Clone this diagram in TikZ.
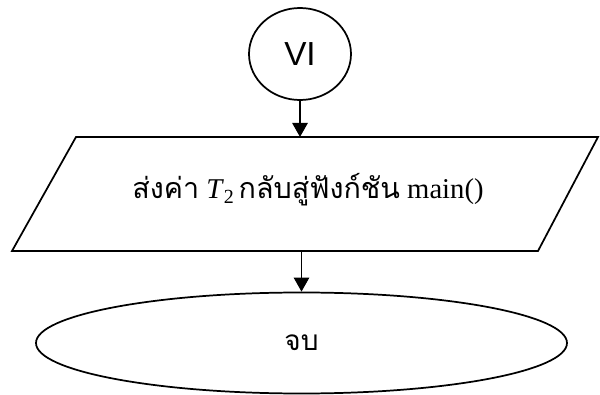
\documentclass[tikz,border=0pt]{standalone}
\usepackage{fontspec}
\setmainfont{Liberation Serif}
\newfontfamily\thaifont[Script=Thai]{Loma}
\newfontfamily\sansf{Liberation Sans}
\usetikzlibrary{shapes.geometric,arrows.meta}
\tikzset{
  shapeline/.style={draw=black, line width=1.3pt, line join=miter},
  conn/.style={draw=black, line width=1.3pt, -{Triangle[length=10.5pt,width=11.5pt]}},
}
\begin{document}
\begin{tikzpicture}[x=0.75pt,y=-0.75pt]
\useasboundingbox (0,0) rectangle (600,395);
\node[shapeline, ellipse, minimum width=76.5pt, minimum height=69pt, inner sep=0pt,
      font=\sansf\fontsize{25}{29}\selectfont] (c) at (300,54) {VI};
\coordinate (pbl) at (12,251);
\coordinate (pbr) at (538,251);
\coordinate (ptr) at (598,137);
\coordinate (ptl) at (76,137);
\draw[shapeline] (pbl) -- (pbr) -- (ptr) -- (ptl) -- cycle;
\node[minimum width=390pt, minimum height=85.5pt, inner sep=0pt, outer sep=0pt] (p) at (306,194) {};
\node[inner sep=0pt, font=\fontsize{21.5}{26}\selectfont] (ptext) at (308,190)
      {{\thaifont ส่งค่า} \textit{T}\raisebox{-0.35ex}{\fontsize{15}{18}\selectfont 2}\,{\thaifont กลับสู่ฟังก์ชัน} main()};
\node[shapeline, ellipse, minimum width=398.25pt, minimum height=75.75pt, inner sep=0pt,
      font=\thaifont\fontsize{21}{25}\selectfont] (e) at (301.5,343) {จบ};
\draw[conn] (c.south) -- (c.south |- p.north);
\draw[conn] (p.south -| e.north) -- (e.north);
\end{tikzpicture}
\end{document}
